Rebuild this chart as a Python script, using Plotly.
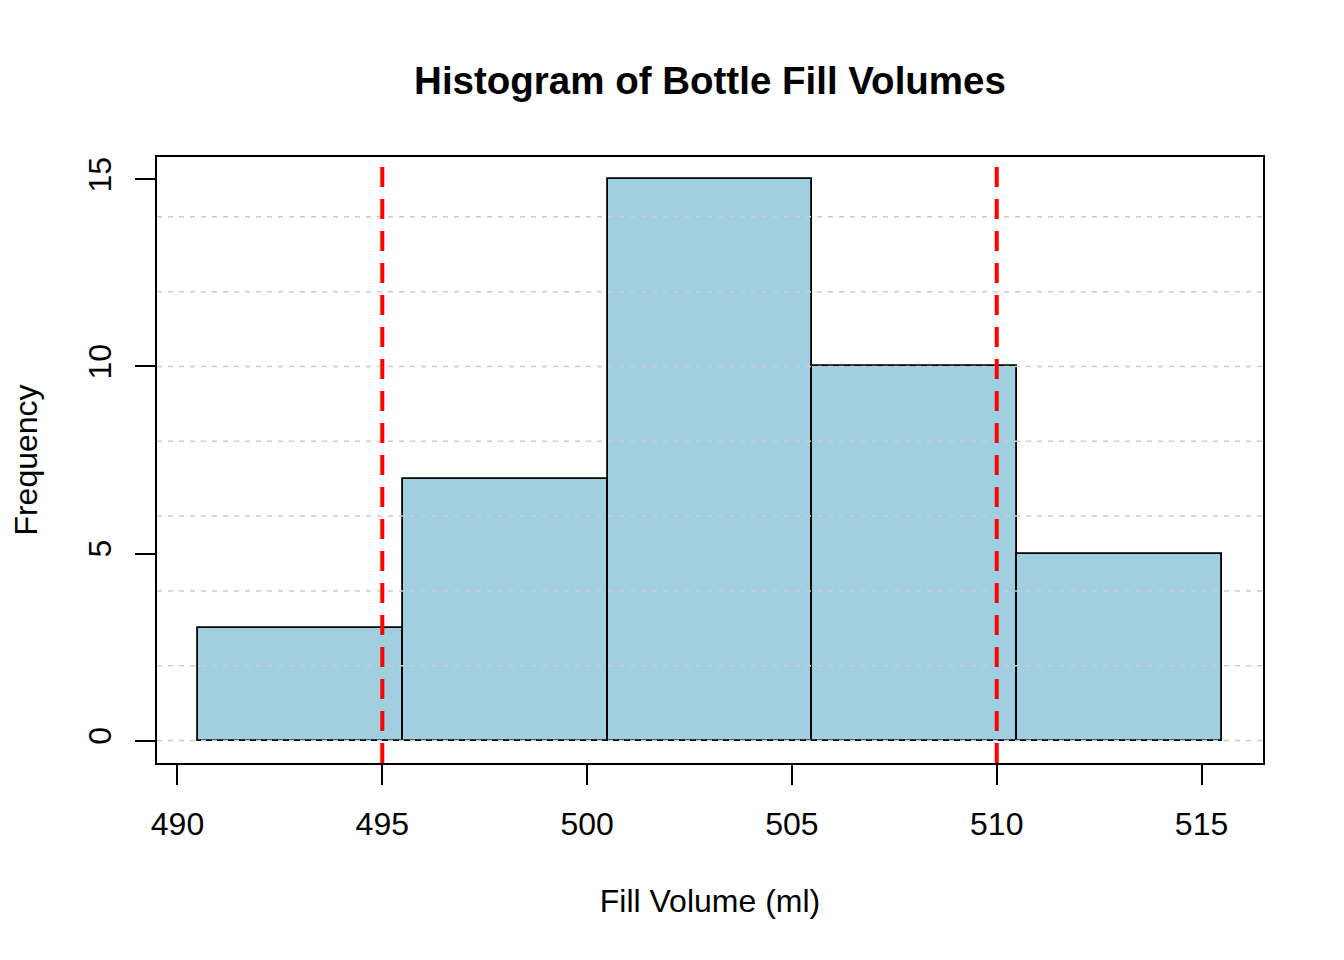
import plotly.graph_objects as go

# Data
bin_starts = [490.5, 495.5, 500.5, 505.5, 510.5]
bin_width = 5
counts = [3, 7, 15, 10, 5]
limits = [495, 510]
grid_y = [0, 2, 4, 6, 8, 10, 12, 14]
x_ticks = [490, 495, 500, 505, 510, 515]
y_ticks = [0, 5, 10, 15]

font = "Liberation Sans, Arial, Helvetica, sans-serif"

fig = go.Figure()
fig.add_trace(go.Bar(
    x=[s + bin_width / 2 for s in bin_starts], y=counts, width=bin_width,
    marker=dict(color="#9FCFE0", line=dict(color="black", width=1.8)),
    hoverinfo="x+y", showlegend=False,
))

# dotted grid, drawn over the bars like abline/grid in base R
for g in grid_y:
    fig.add_shape(type="line", xref="paper", x0=0, x1=1, y0=g, y1=g,
                  line=dict(color="#CCCCCC", width=1.5, dash="5px,6px"), layer="above")

# spec limits
for v in limits:
    fig.add_shape(type="line", yref="paper", x0=v, x1=v, y0=0, y1=1,
                  line=dict(color="#FF0000", width=4, dash="20px,12px"), layer="above")

fig.update_layout(
    width=1344, height=960,
    plot_bgcolor="white", paper_bgcolor="white",
    margin=dict(l=149, r=89, t=149, b=205),
    font=dict(family=font, size=32, color="black"),
    title=dict(text="<b>Histogram of Bottle Fill Volumes</b>", xref="paper", x=0.5, xanchor="center",
               y=1 - 73 / 960, yanchor="middle", font=dict(size=38.5)),
    bargap=0,
)
fig.update_xaxes(
    range=[489.5, 516.5], tickvals=x_ticks, ticks="outside", ticklen=20, tickwidth=1.5,
    tickcolor="black", showgrid=False, zeroline=False, showline=True, linecolor="black",
    linewidth=1.5, mirror=True, ticklabelstandoff=12,
    title=dict(text="Fill Volume (ml)", standoff=48, font=dict(size=32)),
)
fig.update_yaxes(
    range=[-0.6, 15.6], tickvals=y_ticks, ticks="outside", ticklen=20, tickwidth=1.5,
    tickcolor="black", showgrid=False, zeroline=False, showline=True, linecolor="black",
    linewidth=1.5, mirror=True, tickangle=-90, ticklabelstandoff=11,
    title=dict(text="Frequency", standoff=37, font=dict(size=32)),
)

fig.write_html("out.html")
